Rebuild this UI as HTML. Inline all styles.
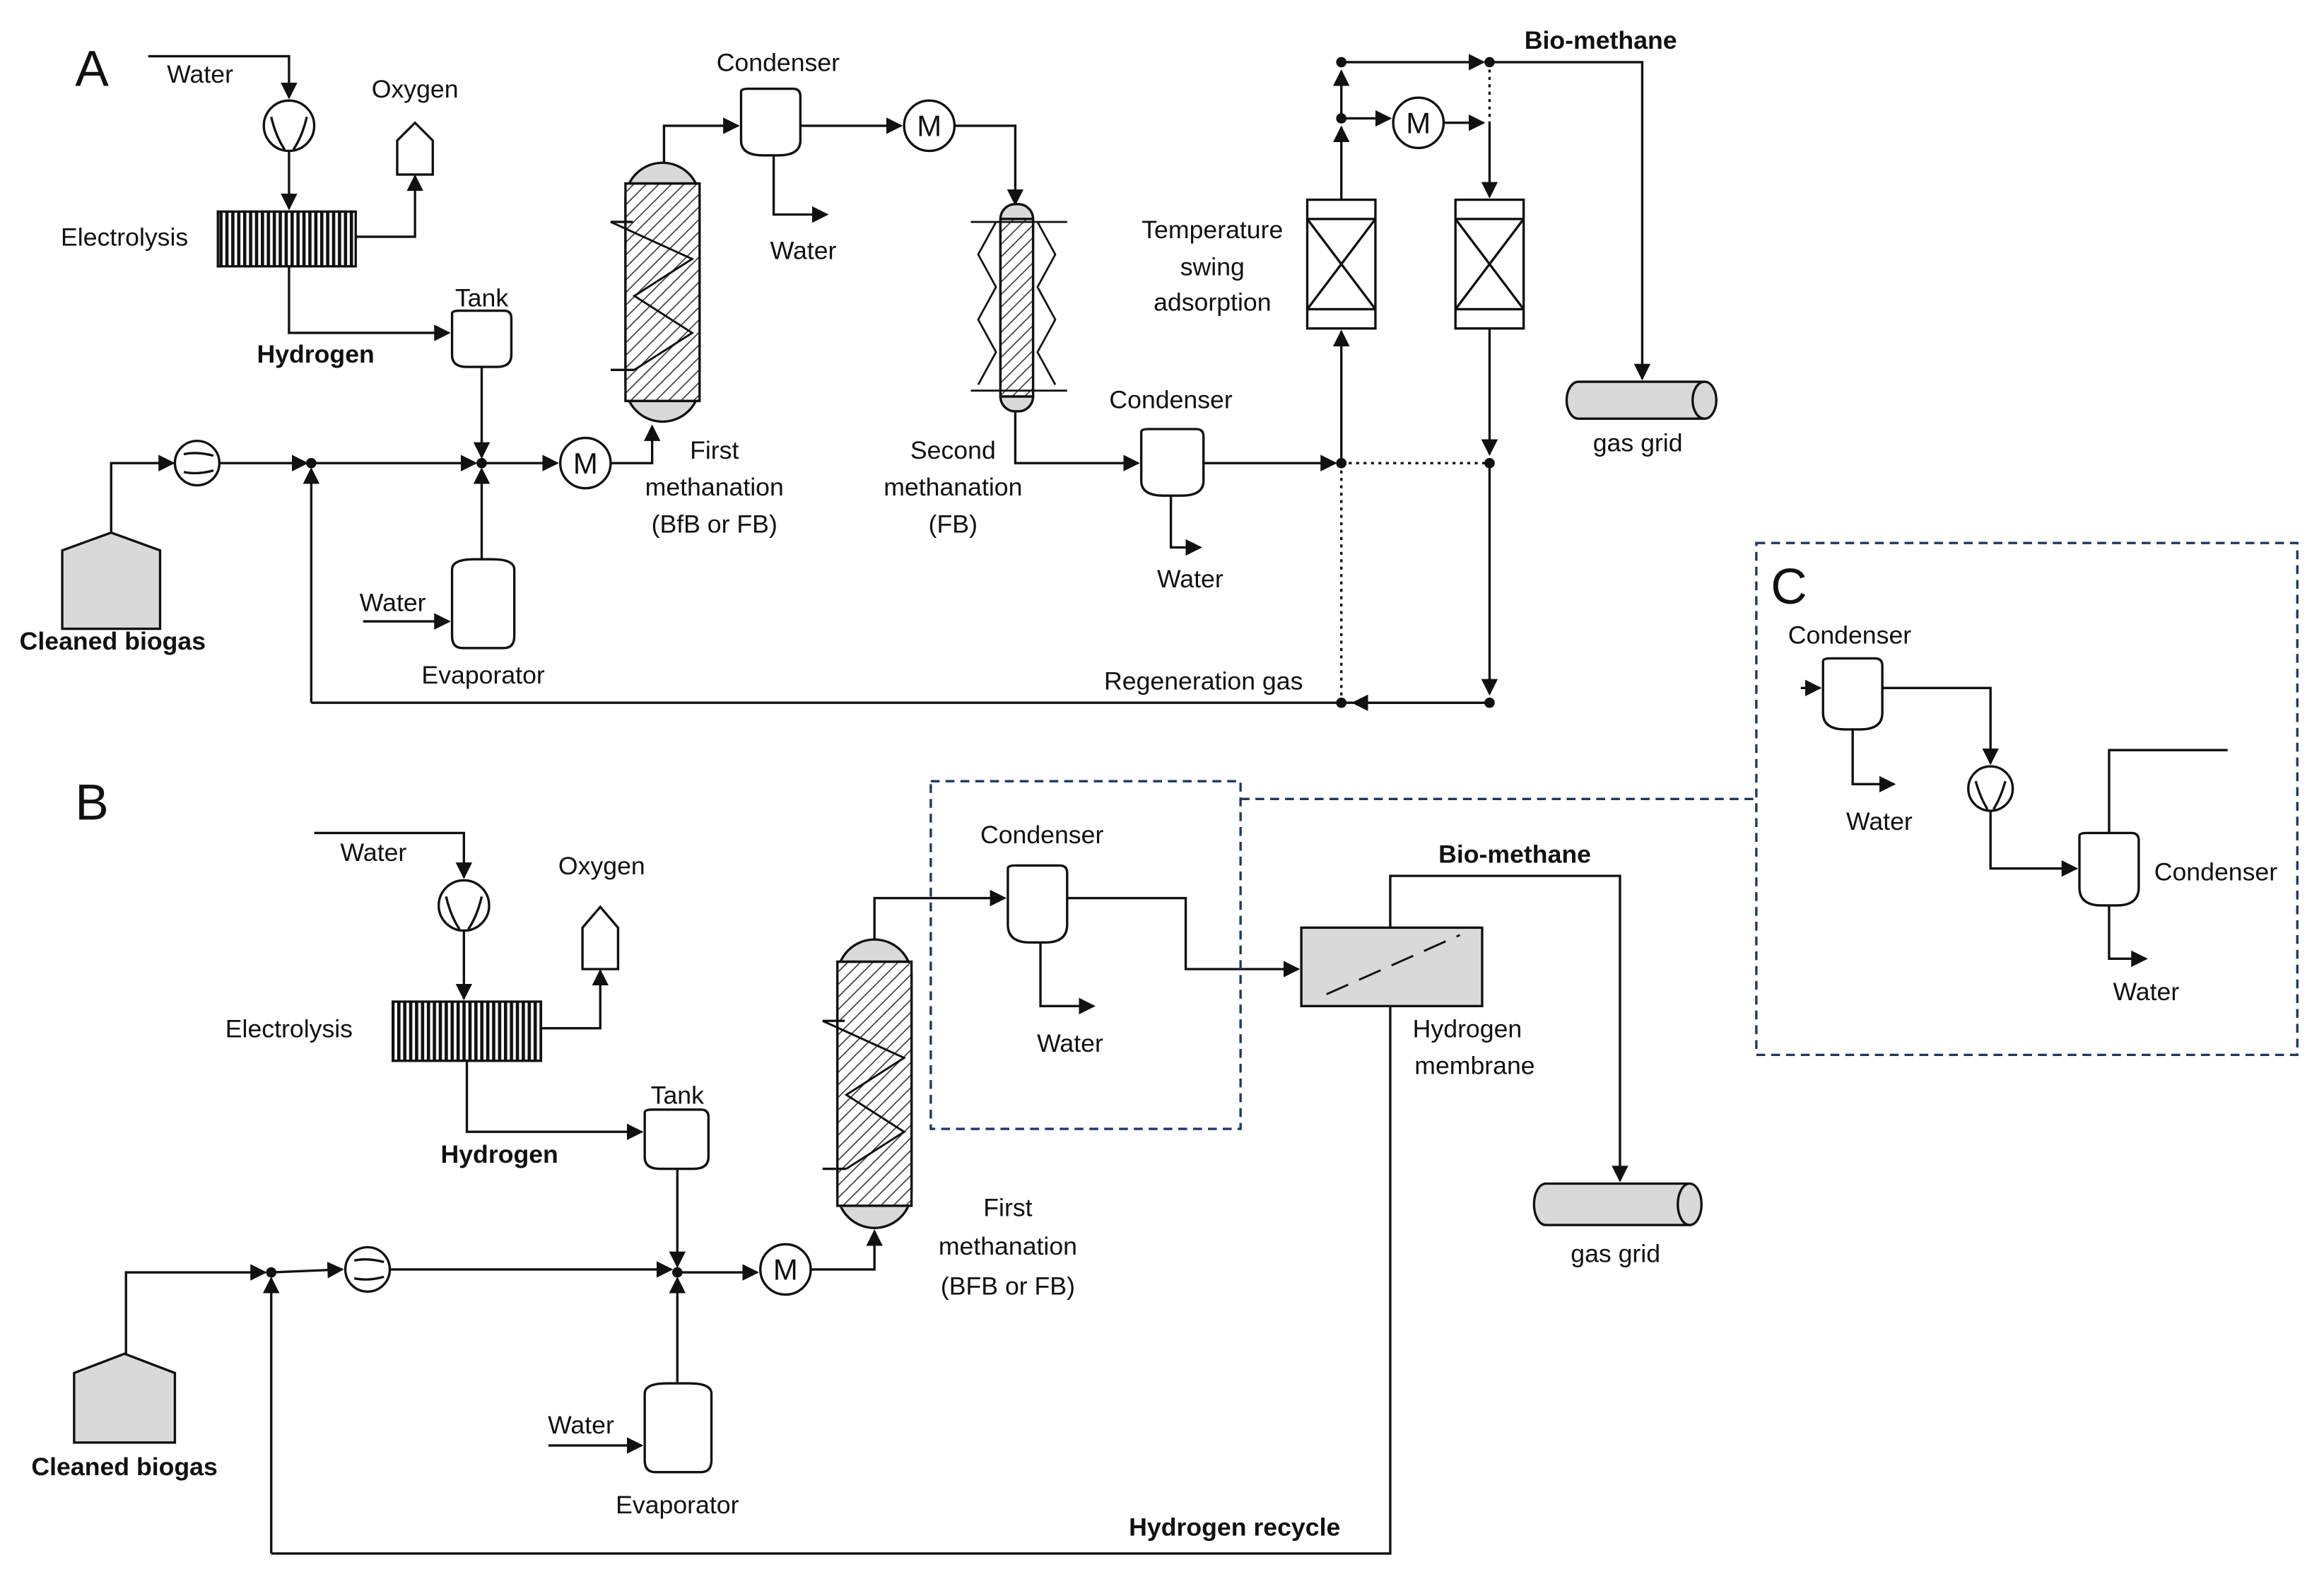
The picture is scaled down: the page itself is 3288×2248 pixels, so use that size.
<!DOCTYPE html>
<html><head><meta charset="utf-8"><style>
html,body{margin:0;padding:0;background:#fff}
svg{display:block}
text{font-family:"Liberation Sans",sans-serif;font-size:17px;fill:#111}
.b{font-weight:bold}
</style></head><body>
<svg width="3288" height="2248" viewBox="0 0 1568 1074" preserveAspectRatio="none" xmlns="http://www.w3.org/2000/svg">
<defs>
<marker id="ar" viewBox="0 0 10 10" refX="9" refY="5" markerWidth="7" markerHeight="7" orient="auto"><path d="M0,0 L10,5 L0,10 z" fill="#111"/></marker>
<pattern id="hat" width="6" height="6" patternUnits="userSpaceOnUse" patternTransform="rotate(45)"><rect width="6" height="6" fill="#fff"/><line x1="0" y1="0" x2="0" y2="6" stroke="#333" stroke-width="1.5"/></pattern>
<pattern id="vh" width="4" height="10" patternUnits="userSpaceOnUse"><rect width="4" height="10" fill="#fff"/><rect width="2.2" height="10" fill="#111"/></pattern>
</defs>
<g fill="none" stroke="#111" stroke-width="1.6">

<!-- ===== A ===== -->
<path d="M100,38 H195 V66" marker-end="url(#ar)"/>
<circle cx="195" cy="85" r="17" fill="#fff"/><path d="M183,79 Q186,92 192,101 M207,79 Q204,92 198,101"/>
<path d="M195,102 V141" marker-end="url(#ar)"/>
<rect x="147" y="143" width="93" height="37" fill="url(#vh)"/>
<path d="M240,160 H280 V119" marker-end="url(#ar)"/>
<path d="M268,118 V95 L280,83 L292,95 V118 Z" fill="#fff"/>
<path d="M195,180 V225 H303" marker-end="url(#ar)"/>
<path d="M305,212 Q305,210 310,210 H340 Q345,210 345,215 V240 Q345,248 335,248 H315 Q305,248 305,240 Z" fill="#fff"/>
<path d="M325,248 V309" marker-end="url(#ar)"/>
<path d="M42,372 L75,360 L108,372 V425 H42 Z" fill="#d9d9d9"/>
<path d="M75,360 V313 H117" marker-end="url(#ar)"/>
<circle cx="133" cy="313" r="15" fill="#fff"/><path d="M124,307 Q133,305 144,308 M124,319 Q133,321 144,318"/>
<path d="M148,313 H207" marker-end="url(#ar)"/>
<path d="M210,313 H321" marker-end="url(#ar)"/>
<path d="M325,313 H376" marker-end="url(#ar)"/>
<circle cx="395" cy="313" r="17" fill="#fff"/>
<path d="M412,313 H440 V288" marker-end="url(#ar)"/>
<path d="M210,475 V317" marker-end="url(#ar)"/>
<path d="M1005,475 H210"/>
<path d="M305,385 Q305,378 320,378 H332 Q347,378 347,385 V430 Q347,438 340,438 H312 Q305,438 305,430 Z" fill="#fff"/>
<path d="M245,420 H303" marker-end="url(#ar)"/>
<path d="M325,378 V317" marker-end="url(#ar)"/>
<!-- column 1 -->
<rect x="422" y="110" width="50" height="175" rx="25" fill="#d9d9d9"/>
<rect x="422" y="124" width="50" height="147" fill="url(#hat)"/>
<path d="M422,124 H472 M422,271 H472"/>
<path d="M412,150 L467,175 L428,200 L467,225 L428,250" stroke-width="1.4"/>
<path d="M412,150 H427 M412,250 H428"/>
<path d="M448,110 V85 H498" marker-end="url(#ar)"/>
<path d="M500,62 Q500,60 505,60 H535 Q540,60 540,65 V95 Q540,105 525,105 H515 Q500,105 500,95 Z" fill="#fff"/>
<path d="M522,105 V145 H558" marker-end="url(#ar)"/>
<path d="M540,85 H608" marker-end="url(#ar)"/>
<circle cx="627" cy="85" r="17" fill="#fff"/>
<path d="M644,85 H685 V138" marker-end="url(#ar)"/>
<!-- column 2 -->
<rect x="675" y="138" width="22" height="140" rx="10" fill="#d9d9d9"/>
<rect x="675" y="148" width="22" height="120" fill="url(#hat)"/>
<path d="M675,148 H697 M675,268 H697"/>
<path d="M655,150 L720,150 M672,150 L660,172 L672,194 L660,216 L672,238 L660,260 M700,150 L712,172 L700,194 L712,216 L700,238 L712,260 M655,264 H720" stroke-width="1.3"/>
<path d="M685,278 V313 H768" marker-end="url(#ar)"/>
<path d="M770,292 Q770,290 775,290 H807 Q812,290 812,295 V325 Q812,335 797,335 H785 Q770,335 770,325 Z" fill="#fff"/>
<path d="M790,335 V370 H810" marker-end="url(#ar)"/>
<path d="M812,313 H901" marker-end="url(#ar)"/>
<path d="M905,313 V224" marker-end="url(#ar)"/>
<rect x="882" y="135" width="46" height="87" fill="#fff"/>
<path d="M882,148 H928 M882,209 H928 M882,148 L928,209 M928,148 L882,209"/>
<rect x="982" y="135" width="46" height="87" fill="#fff"/>
<path d="M982,148 H1028 M982,209 H1028 M982,148 L1028,209 M1028,148 L982,209"/>
<path d="M905,313 H1005 M905,313 V475" stroke-dasharray="2,3"/>
<path d="M905,135 V86" marker-end="url(#ar)"/>
<path d="M905,80 V48" marker-end="url(#ar)"/>
<path d="M905,42 H1001" marker-end="url(#ar)"/>
<path d="M1005,42 H1108 V256" marker-end="url(#ar)"/>
<path d="M905,80 H938" marker-end="url(#ar)"/>
<circle cx="957" cy="83" r="17" fill="#fff"/>
<path d="M974,83 H1001" marker-end="url(#ar)"/>
<path d="M1005,42 V83" stroke-dasharray="2,3"/>
<path d="M1005,83 V133" marker-end="url(#ar)"/>
<path d="M1005,222 V307" marker-end="url(#ar)"/>
<path d="M1005,313 V469" marker-end="url(#ar)"/>
<path d="M1005,475 H913" marker-end="url(#ar)"/>
<path d="M1065,258 H1150 A8,12.5 0 0 1 1150,283 H1065 A8,12.5 0 0 1 1065,258 Z" fill="#d9d9d9"/>
<path d="M1150,258 A8,12.5 0 0 0 1150,283"/>

<!-- ===== B ===== -->
<path d="M212,563 H313 V593" marker-end="url(#ar)"/>
<circle cx="313" cy="612" r="17" fill="#fff"/><path d="M301,606 Q304,619 310,628 M325,606 Q322,619 316,628"/>
<path d="M313,629 V675" marker-end="url(#ar)"/>
<rect x="265" y="677" width="100" height="40" fill="url(#vh)"/>
<path d="M365,695 H405 V656" marker-end="url(#ar)"/>
<path d="M393,655 V627 L405,613 L417,627 V655 Z" fill="#fff"/>
<path d="M315,717 V765 H433" marker-end="url(#ar)"/>
<path d="M435,752 Q435,750 440,750 H473 Q478,750 478,755 V782 Q478,790 468,790 H445 Q435,790 435,782 Z" fill="#fff"/>
<path d="M457,790 V856" marker-end="url(#ar)"/>
<path d="M50,928 L84,915 L118,928 V975 H50 Z" fill="#d9d9d9"/>
<path d="M85,915 V860 H179" marker-end="url(#ar)"/>
<path d="M183,860 L231,858" marker-end="url(#ar)"/>
<circle cx="248" cy="858" r="15" fill="#fff"/><path d="M239,852 Q248,850 259,853 M239,864 Q248,866 259,863"/>
<path d="M263,858 H453" marker-end="url(#ar)"/>
<path d="M457,860 H511" marker-end="url(#ar)"/>
<circle cx="530" cy="858" r="17" fill="#fff"/>
<path d="M547,858 H590 V832" marker-end="url(#ar)"/>
<path d="M183,1050 V864" marker-end="url(#ar)"/>
<path d="M183,1050 H938 V680"/>
<path d="M435,942 Q435,935 450,935 H465 Q480,935 480,942 V987 Q480,995 473,995 H442 Q435,995 435,987 Z" fill="#fff"/>
<path d="M370,977 H433" marker-end="url(#ar)"/>
<path d="M457,935 V864" marker-end="url(#ar)"/>
<rect x="565" y="635" width="50" height="195" rx="25" fill="#d9d9d9"/>
<rect x="565" y="650" width="50" height="165" fill="url(#hat)"/>
<path d="M565,650 H615 M565,815 H615"/>
<path d="M555,690 L610,715 L571,740 L610,765 L571,790" stroke-width="1.4"/>
<path d="M555,690 H570 M555,790 H571"/>
<path d="M590,635 V607 H678" marker-end="url(#ar)"/>
<path d="M680,587 Q680,585 685,585 H715 Q720,585 720,590 V625 Q720,637 705,637 H695 Q680,637 680,625 Z" fill="#fff"/>
<path d="M702,637 V680 H738" marker-end="url(#ar)"/>
<path d="M720,607 H800 V655 H876" marker-end="url(#ar)"/>
<rect x="878" y="627" width="122" height="53" fill="#d9d9d9"/>
<path d="M895,672 L985,632" stroke-dasharray="16,8" stroke-width="1.4"/>
<path d="M938,627 V592 H1093 V798" marker-end="url(#ar)"/>
<path d="M1043,800 H1140 A8,14 0 0 1 1140,828 H1043 A8,14 0 0 1 1043,800 Z" fill="#d9d9d9"/>
<path d="M1140,800 A8,14 0 0 0 1140,828"/>
<g stroke="#1f3864" stroke-dasharray="6,4" stroke-width="1.6">
<rect x="628" y="528" width="209" height="235"/>
<path d="M837,540 H1185"/>
<rect x="1185" y="367" width="365" height="346"/>
</g>

<!-- ===== C ===== -->
<path d="M1215,465 H1228" marker-end="url(#ar)"/>
<path d="M1230,447 Q1230,445 1235,445 H1265 Q1270,445 1270,450 V482 Q1270,493 1255,493 H1245 Q1230,493 1230,482 Z" fill="#fff"/>
<path d="M1250,493 V530 H1278" marker-end="url(#ar)"/>
<path d="M1270,465 H1343 V516" marker-end="url(#ar)"/>
<circle cx="1343" cy="533" r="15" fill="#fff"/><path d="M1333,528 Q1336,539 1341,547 M1353,528 Q1350,539 1345,547"/>
<path d="M1343,548 V587 H1401" marker-end="url(#ar)"/>
<path d="M1403,565 Q1403,563 1408,563 H1438 Q1443,563 1443,568 V600 Q1443,612 1428,612 H1418 Q1403,612 1403,600 Z" fill="#fff"/>
<path d="M1423,563 V507 H1503"/>
<path d="M1423,612 V648 H1448" marker-end="url(#ar)"/>
</g>
<g fill="#111" stroke="none">
<circle cx="210" cy="313" r="3.5"/><circle cx="325" cy="313" r="3.5"/>
<circle cx="905" cy="313" r="3.5"/><circle cx="1005" cy="313" r="3.5"/>
<circle cx="905" cy="475" r="3.5"/><circle cx="1005" cy="475" r="3.5"/>
<circle cx="905" cy="80" r="3.5"/><circle cx="905" cy="42" r="3.5"/><circle cx="1005" cy="42" r="3.5"/>
<circle cx="183" cy="860" r="3.5"/><circle cx="457" cy="860" r="3.5"/>
</g>
<g text-anchor="middle">
<text x="62" y="58" style="font-size:34px" text-anchor="middle">A</text>
<text x="135" y="56">Water</text>
<text x="280" y="66">Oxygen</text>
<text x="84" y="166">Electrolysis</text>
<text x="213" y="245" class="b">Hydrogen</text>
<text x="325" y="207">Tank</text>
<text x="76" y="439" class="b">Cleaned biogas</text>
<text x="265" y="413">Water</text>
<text x="326" y="462">Evaporator</text>
<text x="482" y="310">First</text>
<text x="482" y="335">methanation</text>
<text x="482" y="360">(BfB or FB)</text>
<text x="525" y="48">Condenser</text>
<text x="542" y="175">Water</text>
<text x="643" y="310">Second</text>
<text x="643" y="335">methanation</text>
<text x="643" y="360">(FB)</text>
<text x="790" y="276">Condenser</text>
<text x="803" y="397">Water</text>
<text x="818" y="161">Temperature</text>
<text x="818" y="186">swing</text>
<text x="818" y="210">adsorption</text>
<text x="812" y="466">Regeneration gas</text>
<text x="1080" y="33" class="b">Bio-methane</text>
<text x="1105" y="305">gas grid</text>

<text x="62" y="554" style="font-size:34px">B</text>
<text x="252" y="582">Water</text>
<text x="406" y="591">Oxygen</text>
<text x="195" y="701">Electrolysis</text>
<text x="337" y="786" class="b">Hydrogen</text>
<text x="457" y="746">Tank</text>
<text x="84" y="997" class="b">Cleaned biogas</text>
<text x="392" y="969">Water</text>
<text x="457" y="1023">Evaporator</text>
<text x="680" y="822">First</text>
<text x="680" y="848">methanation</text>
<text x="680" y="875">(BFB or FB)</text>
<text x="703" y="570">Condenser</text>
<text x="722" y="711">Water</text>
<text x="1022" y="583" class="b">Bio-methane</text>
<text x="990" y="701">Hydrogen</text>
<text x="995" y="726">membrane</text>
<text x="1090" y="853">gas grid</text>
<text x="833" y="1038" class="b">Hydrogen recycle</text>

<text x="1207" y="408" style="font-size:34px">C</text>
<text x="1248" y="435">Condenser</text>
<text x="1268" y="561">Water</text>
<text x="1495" y="595">Condenser</text>
<text x="1448" y="676">Water</text>
</g>
<g text-anchor="middle" style="font-size:20px">
<text x="395" y="320" style="font-size:20px">M</text>
<text x="627" y="92" style="font-size:20px">M</text>
<text x="957" y="90" style="font-size:20px">M</text>
<text x="530" y="865" style="font-size:20px">M</text>
</g>
</svg>
</body></html>
